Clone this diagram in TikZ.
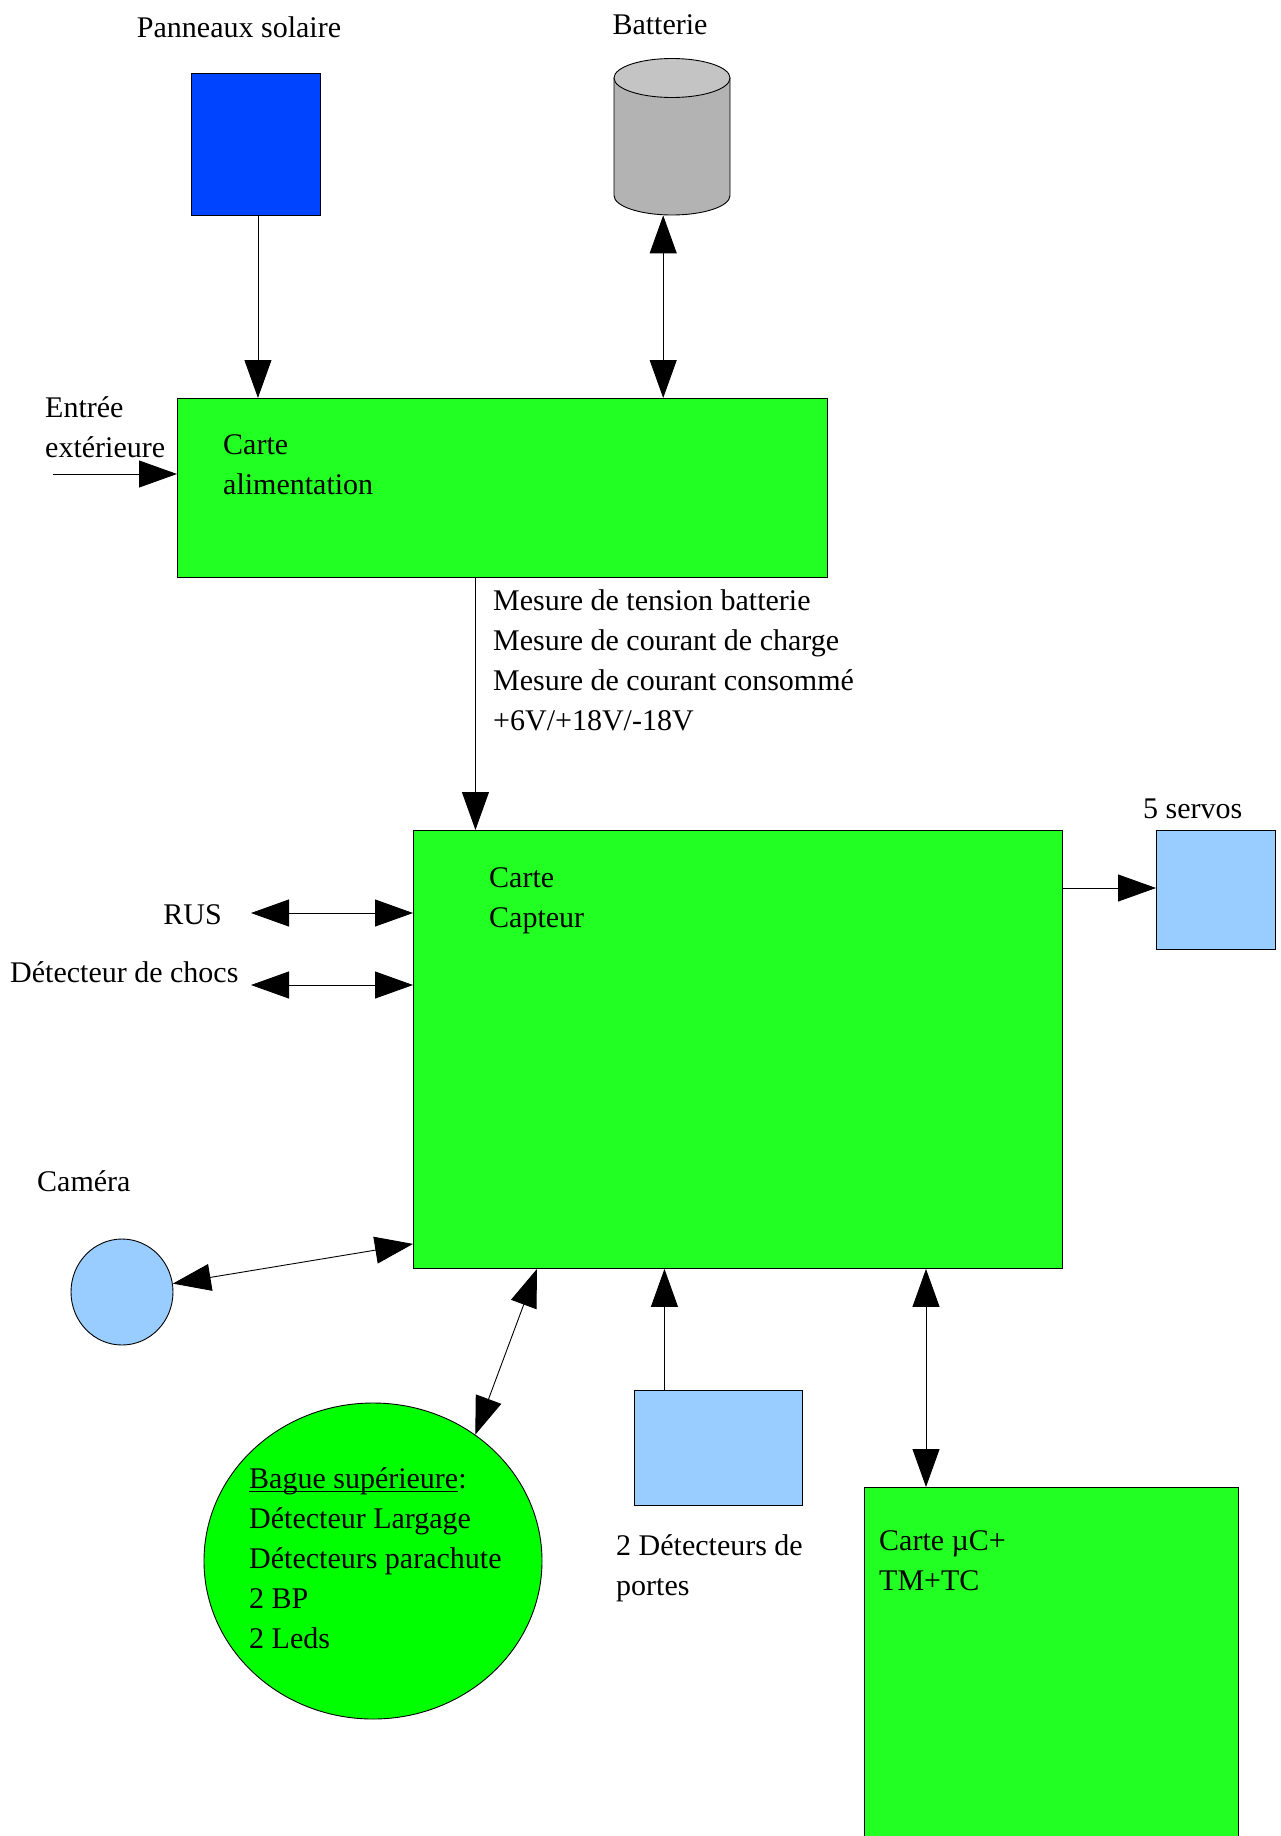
\documentclass[tikz,border=0pt]{standalone}
\usepackage{fontspec}
\setmainfont{Liberation Serif}
\usetikzlibrary{arrows.meta,shapes.geometric}
\definecolor{boardgreen}{HTML}{22FF22}
\definecolor{ringgreen}{HTML}{00FF00}
\definecolor{panelblue}{HTML}{0044FF}
\definecolor{skyblue}{HTML}{99CCFF}
\definecolor{battbody}{HTML}{B3B3B3}
\definecolor{batttop}{HTML}{C4C4C4}
% underline drawn just below the baseline, through the descenders
\newcommand\ulabel[1]{\setbox0\hbox{#1}\rlap{\rule[-4pt]{\wd0}{1.3pt}}\box0}

\begin{document}
\begin{tikzpicture}[x=1pt,y=-1pt,
  every node/.style={font=\fontsize{30}{40}\selectfont},
  block/.style={draw=black, line width=0.9pt, inner sep=0pt, anchor=north west},
  txt/.style={anchor=north west, inner sep=0pt, align=left},
  head/.style={-{Triangle[length=38pt,width=27pt]}},
  dhead/.style={{Triangle[length=38pt,width=27pt]}-{Triangle[length=38pt,width=27pt]}},
  link/.style={line width=0.9pt, draw=black}]

\useasboundingbox (0,0) rectangle (1280,1836);
\clip (0,0) rectangle (1280,1836);

% --- blocks ---
\node[block, fill=panelblue, minimum width=129pt, minimum height=142pt] (panel) at (191,73) {};

% battery cylinder
\node[inner sep=0pt, anchor=north west, minimum width=116pt, minimum height=156pt] (batt) at (614,59) {};
\filldraw[fill=battbody, line width=0.9pt] (614,78) -- (614,195.5)
  arc[start angle=180, end angle=360, x radius=58pt, y radius=19.5pt] -- (730,78) -- cycle;
\filldraw[fill=batttop, line width=0.9pt] (672,78) ellipse[x radius=58pt, y radius=19.5pt];

\node[block, fill=boardgreen, minimum width=650pt, minimum height=179pt] (alim) at (177,398) {};
\node[block, fill=boardgreen, minimum width=649pt, minimum height=438pt] (capt) at (413,830) {};
\node[block, fill=skyblue, minimum width=119pt, minimum height=119pt] (servo) at (1156,830) {};
\node[block, fill=skyblue, minimum width=168pt, minimum height=115pt] (portes) at (634,1390) {};
\node[block, fill=boardgreen, minimum width=374pt, minimum height=400pt] (uc) at (864,1487) {};
\node[draw=black, line width=0.9pt, ellipse, fill=skyblue, inner sep=0pt,
      minimum width=102pt, minimum height=106pt] (cam) at (122,1292) {};
\node[draw=black, line width=0.9pt, ellipse, fill=ringgreen, inner sep=0pt,
      minimum width=338pt, minimum height=316pt] (bague) at (373,1561) {};

% --- labels ---
\node[anchor=base, inner sep=0pt] (lpanel) at (239,38) {Panneaux solaire};
\node[anchor=base, inner sep=0pt] (lbatt) at (660,35) {Batterie};
\node[txt] (lext) at (45,389) {\strut Entrée\\extérieure};
\node[txt] (lalim) at (223,426) {\strut Carte\\alimentation};
\node[txt] (lmes) at (493,582) {\strut Mesure de tension batterie\\Mesure de courant de charge\\Mesure de courant consommé\\+6V/+18V/-18V};
\node[txt] (lcapt) at (489,859) {\strut Carte\\Capteur};
\node[anchor=base west, inner sep=0pt] (lservo) at (1143,818) {5 servos};
\node[anchor=base east, inner sep=0pt] (lrus) at (222,924) {RUS};
\node[anchor=base west, inner sep=0pt] (lchocs) at (10,982) {Détecteur de chocs};
\node[anchor=base west, inner sep=0pt] (lcam) at (37,1191) {Caméra};
\node[txt] (lbague) at (249,1460) {\strut\ulabel{Bague supérieure}:\\Détecteur Largage\\Détecteurs parachute\\2 BP\\2 Leds};
\node[txt] (lportes) at (616,1527) {\strut 2 Détecteurs de\\portes};
\node[txt] (luc) at (879,1522) {\strut Carte µC+\\TM+TC};

% --- connectors ---
\coordinate (extin) at (53,474);
\coordinate (rusend) at (251,913);
\coordinate (chocsend) at (251,985);

\draw[link, head] ([xshift=2pt]panel.south) -- ([xshift=2pt]panel.south |- alim.north);
\draw[link, dhead] ([xshift=-9pt]batt.south) -- ([xshift=-9pt]batt.south |- alim.north);
\draw[link, head] (extin) -- (extin -| alim.west);
\draw[link, head] ([xshift=-27pt]alim.south) -- ([xshift=-27pt]alim.south |- capt.north);
\draw[link, head] ([yshift=-58pt]capt.north east) -- ([yshift=-58pt]capt.north east -| servo.west);
\draw[link, dhead] (rusend) -- (rusend -| capt.west);
\draw[link, dhead] (chocsend) -- (chocsend -| capt.west);
\draw[link, dhead] (cam) -- ([yshift=25pt]capt.south west);
\draw[link, dhead] (bague.51.5) -- ([xshift=124pt]capt.south west);
\draw[link, head] ([xshift=-54pt]portes.north) -- ([xshift=-54pt]portes.north |- capt.south);
\draw[link, dhead] ([xshift=62pt]uc.north west) -- ([xshift=62pt]uc.north west |- capt.south);
\end{tikzpicture}
\end{document}
